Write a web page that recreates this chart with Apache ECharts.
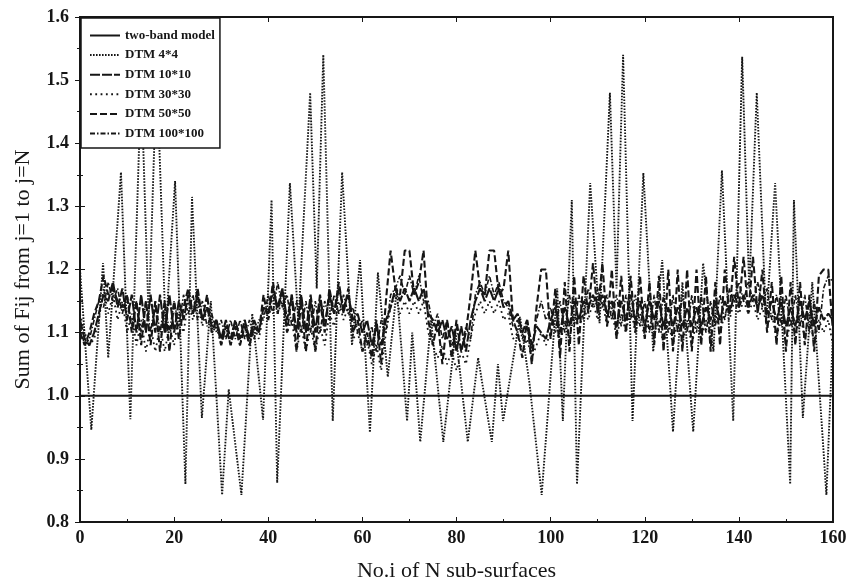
<!DOCTYPE html>
<html><head><meta charset="utf-8">
<script src="https://cdn.jsdelivr.net/npm/echarts@6/dist/echarts.min.js"></script>
<style>html,body{margin:0;padding:0;background:#fff}#c{width:857px;height:586px}</style>
</head><body><div id="c"></div>
<script>
// x ticks
const xTicks = [0, 20, 40, 60, 80, 100, 120, 140, 160];
const yTicks = [0.8, 0.9, 1.0, 1.1, 1.2, 1.3, 1.4, 1.5, 1.6];
const seriesNames = ['two-band model', 'DTM 4*4', 'DTM 10*10', 'DTM 30*30', 'DTM 50*50', 'DTM 100*100'];

// two-band model: constant
const twoBand = [[0, 1.0], [160, 1.0]];

// DTM 4*4: vertices [i, value]
const dtm4 = [[0,1.20],[2.4,0.946],[4.9,1.21],[6,1.06],[8.7,1.354],[10.7,0.963],[13.0,1.50],[14.6,1.12],[16.3,1.52],[18.2,1.10],[20.2,1.34],[22.4,0.86],[23.8,1.315],[25.9,0.965],[27.8,1.15],[30.2,0.843],[31.6,1.01],[34.3,0.843],[36.6,1.13],[38.9,0.962],[40.7,1.31],[41.9,0.862],[44.6,1.337],[46.4,1.115],[48.9,1.48],[50.3,1.17],[51.7,1.54],[53.7,0.96],[55.7,1.354],[57.8,1.08],[59.5,1.215],[61.6,0.942],[63.3,1.195],[65.4,1.03],[67.3,1.17],[69.5,0.96],[70.6,1.10],[72.3,0.927],[74.6,1.12],[77.2,0.927],[79.8,1.10],[82.4,0.927],[84.6,1.06],[87.5,0.927],[88.8,1.05],[89.9,0.96],[93.5,1.125],[95.5,1.02],[98.1,0.843],[101.4,1.17],[102.6,0.96],[104.5,1.31],[105.6,0.86],[108.4,1.337],[110.4,1.115],[112.6,1.48],[114.0,1.17],[115.4,1.54],[117.4,0.96],[119.7,1.353],[121.8,1.07],[123.7,1.215],[126,0.943],[128,1.18],[130.3,0.943],[132.4,1.21],[134.6,1.07],[136.4,1.357],[138.8,0.96],[140.7,1.537],[142.2,1.17],[143.8,1.48],[145.8,1.115],[147.7,1.337],[150.9,0.86],[151.7,1.31],[153.6,0.965],[155.6,1.18],[158.6,0.843],[160,1.10]];

// DTM 10*10, one value per sub-surface i = 0..160
const dtm10 = [1.12,1.09,1.08,1.10,1.13,1.16,1.15,1.18,1.14,1.17,
1.12,1.16,1.10,1.16,1.10,1.16,1.10,1.16,1.10,1.16,
1.10,1.15,1.12,1.16,1.13,1.16,1.12,1.14,1.11,1.12,
1.09,1.12,1.09,1.12,1.09,1.12,1.09,1.12,1.10,1.14,
1.13,1.17,1.14,1.17,1.12,1.16,1.10,1.16,1.10,1.16,
1.10,1.16,1.11,1.16,1.13,1.17,1.14,1.16,1.12,1.13,
1.10,1.12,1.08,1.11,1.08,1.12,1.14,1.17,1.15,1.17,
1.15,1.17,1.15,1.17,1.13,1.12,1.10,1.12,1.09,1.11,
1.07,1.11,1.07,1.12,1.15,1.17,1.15,1.17,1.15,1.17,
1.14,1.15,1.12,1.13,1.10,1.12,1.08,1.11,1.10,1.09,
1.12,1.14,1.10,1.14,1.11,1.15,1.12,1.15,1.14,1.16,
1.14,1.16,1.13,1.15,1.11,1.15,1.12,1.16,1.12,1.15,
1.11,1.15,1.12,1.15,1.11,1.14,1.11,1.14,1.11,1.14,
1.11,1.14,1.11,1.14,1.12,1.15,1.12,1.15,1.13,1.16,
1.14,1.16,1.14,1.16,1.14,1.16,1.13,1.15,1.12,1.15,
1.11,1.14,1.11,1.15,1.12,1.15,1.11,1.14,1.12,1.13,1.12];

const dtm30 = [1.13,1.10,1.08,1.09,1.12,1.17,1.13,1.16,1.12,1.15,
1.10,1.13,1.08,1.12,1.07,1.11,1.07,1.11,1.07,1.11,
1.08,1.13,1.10,1.15,1.12,1.15,1.11,1.14,1.10,1.11,
1.08,1.11,1.08,1.11,1.08,1.12,1.08,1.11,1.09,1.13,
1.12,1.16,1.13,1.15,1.10,1.12,1.07,1.11,1.07,1.11,
1.07,1.11,1.08,1.13,1.11,1.15,1.12,1.14,1.09,1.10,
1.07,1.09,1.05,1.08,1.04,1.10,1.14,1.16,1.13,1.15,
1.13,1.15,1.13,1.15,1.10,1.08,1.06,1.08,1.05,1.07,
1.04,1.07,1.05,1.09,1.13,1.15,1.13,1.15,1.13,1.15,
1.12,1.13,1.09,1.10,1.07,1.09,1.06,1.08,1.10,1.08,
1.10,1.12,1.08,1.12,1.09,1.13,1.10,1.14,1.12,1.15,
1.12,1.15,1.11,1.14,1.09,1.13,1.10,1.14,1.10,1.13,
1.09,1.13,1.10,1.12,1.08,1.12,1.08,1.12,1.08,1.12,
1.08,1.12,1.09,1.12,1.09,1.13,1.10,1.13,1.12,1.15,
1.13,1.15,1.13,1.15,1.12,1.14,1.11,1.13,1.09,1.13,
1.08,1.12,1.09,1.13,1.09,1.13,1.08,1.12,1.10,1.12,1.08];

const dtm50 = [1.10,1.08,1.10,1.13,1.15,1.19,1.16,1.17,1.15,1.14,
1.16,1.10,1.15,1.08,1.15,1.08,1.15,1.07,1.15,1.07,
1.15,1.09,1.14,1.17,1.13,1.17,1.12,1.16,1.10,1.12,
1.08,1.11,1.08,1.11,1.08,1.11,1.08,1.11,1.10,1.16,
1.12,1.18,1.13,1.17,1.10,1.16,1.07,1.15,1.07,1.15,
1.07,1.15,1.10,1.17,1.13,1.18,1.13,1.17,1.10,1.12,
1.07,1.10,1.06,1.12,1.05,1.15,1.23,1.17,1.16,1.23,
1.23,1.16,1.18,1.23,1.12,1.08,1.12,1.05,1.12,1.06,
1.12,1.07,1.10,1.16,1.23,1.17,1.16,1.23,1.23,1.16,
1.17,1.23,1.12,1.10,1.06,1.12,1.05,1.14,1.20,1.20,
1.09,1.17,1.06,1.18,1.07,1.19,1.08,1.19,1.13,1.21,
1.13,1.21,1.11,1.20,1.09,1.19,1.10,1.19,1.10,1.19,
1.09,1.18,1.08,1.19,1.07,1.20,1.07,1.20,1.07,1.20,
1.07,1.20,1.08,1.19,1.07,1.18,1.08,1.20,1.13,1.22,
1.14,1.22,1.13,1.22,1.13,1.20,1.10,1.18,1.08,1.19,
1.07,1.18,1.08,1.18,1.08,1.16,1.07,1.19,1.20,1.20,1.10];

const dtm100 = [1.11,1.08,1.09,1.12,1.15,1.14,1.18,1.15,1.17,1.13,
1.16,1.11,1.15,1.10,1.15,1.10,1.15,1.10,1.15,1.10,
1.15,1.11,1.16,1.13,1.16,1.12,1.15,1.11,1.13,1.10,
1.12,1.09,1.12,1.09,1.12,1.09,1.12,1.09,1.12,1.12,
1.16,1.13,1.18,1.14,1.16,1.11,1.15,1.10,1.15,1.10,
1.15,1.10,1.15,1.12,1.16,1.13,1.16,1.13,1.14,1.10,
1.12,1.08,1.11,1.07,1.12,1.10,1.16,1.17,1.19,1.16,
1.19,1.16,1.19,1.15,1.15,1.11,1.13,1.09,1.12,1.08,
1.11,1.07,1.11,1.09,1.16,1.18,1.16,1.19,1.16,1.18,
1.15,1.14,1.11,1.12,1.09,1.11,1.07,1.12,1.15,1.12,
1.14,1.10,1.15,1.10,1.16,1.11,1.16,1.12,1.17,1.14,
1.17,1.14,1.16,1.12,1.16,1.11,1.16,1.12,1.16,1.11,
1.15,1.10,1.16,1.10,1.16,1.10,1.16,1.10,1.16,1.10,
1.16,1.10,1.16,1.10,1.15,1.11,1.16,1.12,1.17,1.15,
1.18,1.15,1.18,1.15,1.18,1.14,1.17,1.12,1.16,1.11,
1.16,1.11,1.16,1.11,1.16,1.10,1.15,1.10,1.17,1.19,1.18];

const toPairs = arr => arr.map((v, i) => [i, v]);
const FONT = "'Liberation Serif','Times New Roman',serif";
const INK = '#161616';

function mk(name, data, type, width) {
  return {
    name, type: 'line', data, symbol: 'none', showSymbol: false,
    lineStyle: { color: INK, width: width, type: type },
    itemStyle: { color: 'rgba(0,0,0,0)', borderWidth: 0 },
    emphasis: { disabled: true },
    animation: false
  };
}

const chart = echarts.init(document.getElementById('c'), null, { renderer: 'canvas' });
chart.setOption({
  backgroundColor: '#fff',
  animation: false,
  grid: { left: 80, right: 24, top: 17, bottom: 64, containLabel: false, outerBoundsMode: 'none',
          show: true, borderColor: INK, borderWidth: 2, backgroundColor: 'transparent' },
  legend: {
    orient: 'vertical', left: 81, top: 18, itemWidth: 30, itemHeight: 10, itemGap: 6.6,
    backgroundColor: '#fff', borderColor: INK, borderWidth: 1.5, borderRadius: 0,
    padding: [11, 5, 8, 8],
    itemStyle: { opacity: 0 },
    textStyle: { fontFamily: FONT, fontWeight: 'bold', fontSize: 13, color: INK },
    data: seriesNames
  },
  xAxis: [{
    type: 'value', min: xTicks[0], max: xTicks[xTicks.length - 1], interval: 20,
    name: 'No.i of N sub-surfaces', nameLocation: 'middle', nameGap: 38,
    nameTextStyle: { fontFamily: FONT, fontSize: 22, color: INK },
    axisLine: { show: true, lineStyle: { color: INK, width: 2 } },
    axisTick: { show: true, inside: true, length: 5, lineStyle: { color: INK } },
    minorTick: { show: true, splitNumber: 2, length: 3, lineStyle: { color: INK } },
    splitLine: { show: false },
    axisLabel: { fontFamily: FONT, fontWeight: 'bold', fontSize: 18, color: INK, margin: 7 }
  }, {
    type: 'value', position: 'top', min: 0, max: 160, interval: 20,
    axisLine: { show: false }, axisLabel: { show: false }, splitLine: { show: false },
    axisTick: { show: true, inside: true, length: 5, lineStyle: { color: INK } }
  }],
  yAxis: [{
    type: 'value', min: yTicks[0], max: yTicks[yTicks.length - 1], interval: 0.1,
    name: 'Sum of Fij from j=1 to j=N', nameLocation: 'middle', nameGap: 46,
    nameTextStyle: { fontFamily: FONT, fontSize: 22, color: INK },
    axisLine: { show: true, lineStyle: { color: INK, width: 2 } },
    axisTick: { show: true, inside: true, length: 5, lineStyle: { color: INK } },
    minorTick: { show: true, splitNumber: 2, length: 3, lineStyle: { color: INK } },
    splitLine: { show: false },
    axisLabel: { fontFamily: FONT, fontWeight: 'bold', fontSize: 18, color: INK, margin: 11, formatter: v => v.toFixed(1) }
  }, {
    type: 'value', position: 'right', min: 0.8, max: 1.6, interval: 0.1,
    axisLine: { show: false }, axisLabel: { show: false }, splitLine: { show: false },
    axisTick: { show: true, inside: true, length: 5, lineStyle: { color: INK } },
    minorTick: { show: true, splitNumber: 2, length: 3, lineStyle: { color: INK } }
  }],
  series: [
    mk(seriesNames[0], twoBand, 'solid', 2),
    mk(seriesNames[1], dtm4, [1.6, 1.4], 1.9),
    mk(seriesNames[2], toPairs(dtm10), [10, 2], 2.1),
    mk(seriesNames[3], toPairs(dtm30), [1.8, 3.5], 1.8),
    mk(seriesNames[4], toPairs(dtm50), [7, 3], 2.1),
    mk(seriesNames[5], toPairs(dtm100), [5, 2, 1.5, 2], 1.6)
  ]
});
</script></body></html>
